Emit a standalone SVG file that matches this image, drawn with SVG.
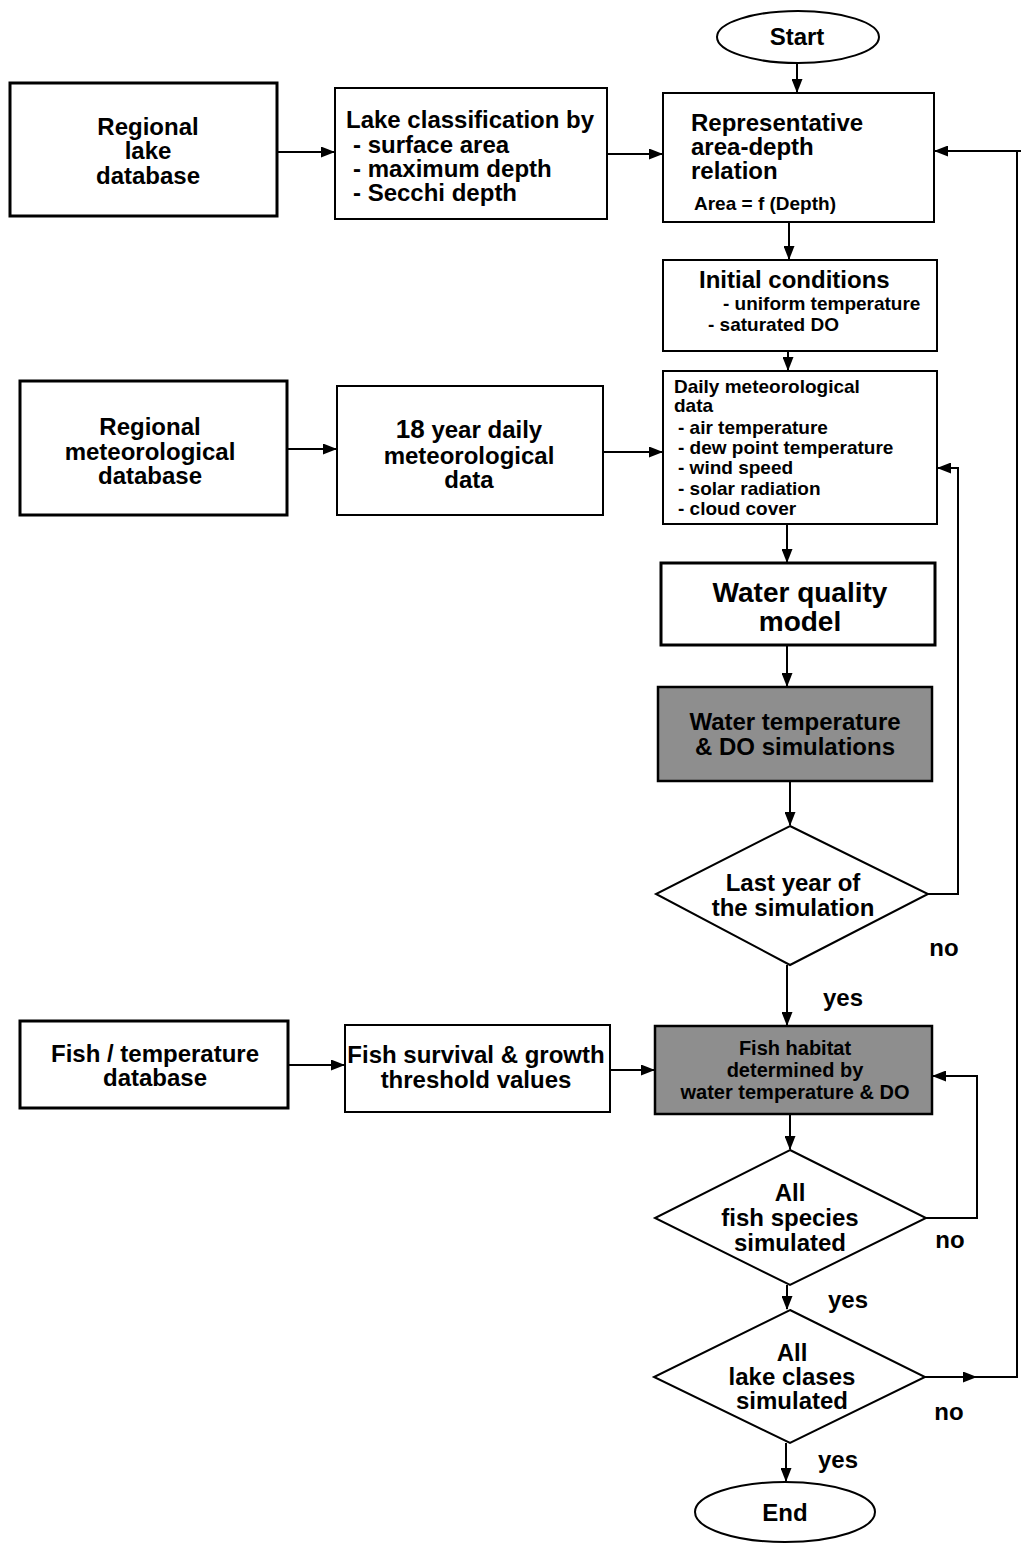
<svg xmlns="http://www.w3.org/2000/svg" width="1021" height="1544" viewBox="0 0 1021 1544">
<defs>
<marker id="ah" markerWidth="14" markerHeight="11" refX="13" refY="5.5" orient="auto" markerUnits="userSpaceOnUse">
<path d="M0,0 L14,5.5 L0,11 Z" fill="#000"/>
</marker>
<style>
.b{fill:#fff;stroke:#000;stroke-width:2}
.tb{fill:#fff;stroke:#000;stroke-width:3}
.sh{fill:#8e8e8e;stroke:#000;stroke-width:2.5}
.c{fill:none;stroke:#000;stroke-width:2}
text{font-family:"Liberation Sans",Arial,sans-serif;fill:#000;font-weight:bold}
.m{font-size:24px;text-anchor:middle}
.l{font-size:24px}
.s{font-size:19px}
.f{font-size:20px;text-anchor:middle}
</style>
</defs>
<rect width="1021" height="1544" fill="#fff"/>
<g id="connectors">
<path class="c" d="M797,63 V92" marker-end="url(#ah)"/>
<path class="c" d="M277,152 H334" marker-end="url(#ah)"/>
<path class="c" d="M607,154 H662" marker-end="url(#ah)"/>
<path class="c" d="M1021,151 H935" marker-end="url(#ah)"/>
<path class="c" d="M789,222 V259" marker-end="url(#ah)"/>
<path class="c" d="M788,351 V370" marker-end="url(#ah)"/>
<path class="c" d="M287,449 H336" marker-end="url(#ah)"/>
<path class="c" d="M603,452 H662" marker-end="url(#ah)"/>
<path class="c" d="M787,524 V562" marker-end="url(#ah)"/>
<path class="c" d="M787,645 V686" marker-end="url(#ah)"/>
<path class="c" d="M790,781 V825" marker-end="url(#ah)"/>
<path class="c" d="M928,894 H958 V468 H938" marker-end="url(#ah)"/>
<path class="c" d="M787,965 V1025" marker-end="url(#ah)"/>
<path class="c" d="M288,1065 H344" marker-end="url(#ah)"/>
<path class="c" d="M610,1070 H654" marker-end="url(#ah)"/>
<path class="c" d="M790,1114 V1149" marker-end="url(#ah)"/>
<path class="c" d="M926,1218 H977 V1076 H933" marker-end="url(#ah)"/>
<path class="c" d="M787,1285 V1309" marker-end="url(#ah)"/>
<path class="c" d="M925,1377 H976" marker-end="url(#ah)"/>
<path class="c" d="M974,1377 H1017 V151"/>
<path class="c" d="M786,1443 V1481" marker-end="url(#ah)"/>
</g>
<g id="start">
<ellipse class="b" cx="798" cy="37" rx="81" ry="26"/>
<text class="m" x="797" y="45">Start</text>
</g>
<g id="regional-lake-db">
<rect class="tb" x="10" y="83" width="267" height="133"/>
<text class="m" x="148" y="135">Regional</text>
<text class="m" x="148" y="159">lake</text>
<text class="m" x="148" y="184">database</text>
</g>
<g id="lake-classification">
<rect class="b" x="335" y="88" width="272" height="131"/>
<text class="l" x="346" y="128">Lake classification by</text>
<text class="l" x="353" y="153">- surface area</text>
<text class="l" x="353" y="177">- maximum depth</text>
<text class="l" x="353" y="201">- Secchi depth</text>
</g>
<g id="area-depth">
<rect class="b" x="663" y="93" width="271" height="129"/>
<text class="l" x="691" y="131">Representative</text>
<text class="l" x="691" y="155">area-depth</text>
<text class="l" x="691" y="179">relation</text>
<text x="694" y="210" font-size="19">Area = f (Depth)</text>
</g>
<g id="initial-conditions">
<rect class="b" x="663" y="260" width="274" height="91"/>
<text class="l" x="699" y="288">Initial conditions</text>
<text class="s" x="723" y="310">- uniform temperature</text>
<text class="s" x="708" y="331">- saturated DO</text>
</g>
<g id="daily-met">
<rect class="b" x="663" y="371" width="274" height="153"/>
<text class="s" x="674" y="393">Daily meteorological</text>
<text class="s" x="674" y="412">data</text>
<text class="s" x="678" y="434">- air temperature</text>
<text class="s" x="678" y="454">- dew point temperature</text>
<text class="s" x="678" y="474">- wind speed</text>
<text class="s" x="678" y="495">- solar radiation</text>
<text class="s" x="678" y="515">- cloud cover</text>
</g>
<g id="regional-met-db">
<rect class="tb" x="20" y="381" width="267" height="134"/>
<text class="m" x="150" y="435">Regional</text>
<text class="m" x="150" y="460">meteorological</text>
<text class="m" x="150" y="484">database</text>
</g>
<g id="year-daily-met">
<rect class="b" x="337" y="386" width="266" height="129"/>
<text class="m" x="469" y="438"><tspan style="font-size:26px">18</tspan> year daily</text>
<text class="m" x="469" y="464">meteorological</text>
<text class="m" x="469" y="488">data</text>
</g>
<g id="water-quality-model">
<rect class="tb" x="661" y="563" width="274" height="82"/>
<text x="800" y="602" font-size="28" text-anchor="middle">Water quality</text>
<text x="800" y="631" font-size="28" text-anchor="middle">model</text>
</g>
<g id="water-temp-sim">
<rect class="sh" x="658" y="687" width="274" height="94"/>
<text class="m" x="795" y="730">Water temperature</text>
<text class="m" x="795" y="755">&amp; DO simulations</text>
</g>
<g id="last-year">
<polygon class="b" points="790,826 928,894 790,965 656,894"/>
<text class="m" x="793" y="891">Last year of</text>
<text class="m" x="793" y="916">the simulation</text>
</g>
<g id="fish-temp-db">
<rect class="tb" x="20" y="1021" width="268" height="87"/>
<text class="m" x="155" y="1062">Fish / temperature</text>
<text class="m" x="155" y="1086">database</text>
</g>
<g id="fish-survival">
<rect class="b" x="345" y="1025" width="265" height="87"/>
<text class="m" x="476" y="1063">Fish survival &amp; growth</text>
<text class="m" x="476" y="1088">threshold values</text>
</g>
<g id="fish-habitat">
<rect class="sh" x="655" y="1026" width="277" height="88"/>
<text class="f" x="795" y="1055">Fish habitat</text>
<text class="f" x="795" y="1077">determined by</text>
<text class="f" x="795" y="1099">water temperature &amp; DO</text>
</g>
<g id="all-fish">
<polygon class="b" points="790,1150 926,1218 790,1285 655,1218"/>
<text class="m" x="790" y="1201">All</text>
<text class="m" x="790" y="1226">fish species</text>
<text class="m" x="790" y="1251">simulated</text>
</g>
<g id="all-lake">
<polygon class="b" points="790,1310 925,1377 790,1443 654,1377"/>
<text class="m" x="792" y="1361">All</text>
<text class="m" x="792" y="1385">lake clases</text>
<text class="m" x="792" y="1409">simulated</text>
</g>
<g id="end">
<ellipse class="b" cx="785" cy="1512" rx="90" ry="30"/>
<text class="m" x="785" y="1521">End</text>
</g>
<g id="labels">
<text class="m" x="944" y="956">no</text>
<text class="m" x="843" y="1006">yes</text>
<text class="m" x="950" y="1248">no</text>
<text class="m" x="848" y="1308">yes</text>
<text class="m" x="949" y="1420">no</text>
<text class="m" x="838" y="1468">yes</text>
</g>
</svg>
